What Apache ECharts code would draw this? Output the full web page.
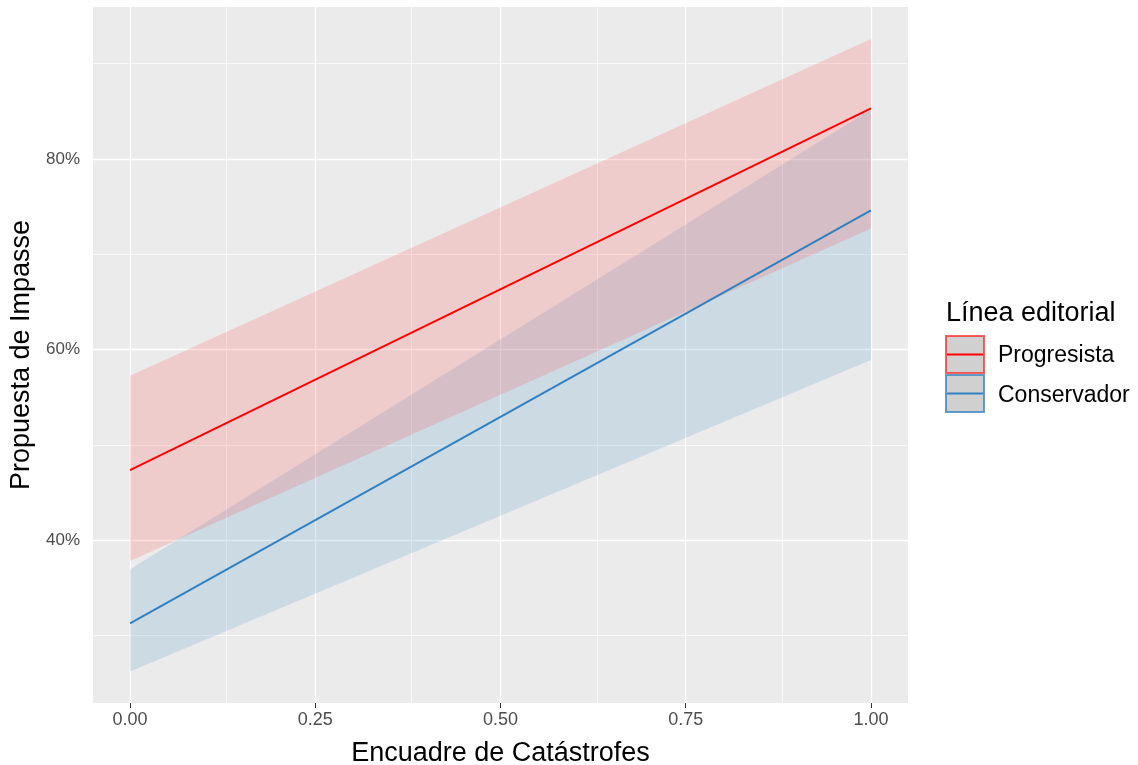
<!DOCTYPE html>
<html>
<head>
<meta charset="utf-8">
<script src="https://cdn.jsdelivr.net/npm/echarts@6/dist/echarts.min.js"></script>
<style>
  html, body { margin: 0; padding: 0; background: #ffffff; }
  #chart { width: 1138px; height: 765px; }
</style>
</head>
<body>
<div id="chart"></div>
<script>
// ---- data ----
const xValues = [0, 1];
const progresistaFit   = [47.35, 85.3];
const progresistaLower = [37.8, 72.7];
const progresistaUpper = [57.25, 92.6];
const conservadorFit   = [31.25, 74.6];
const conservadorLower = [26.2, 58.9];
const conservadorUpper = [36.95, 85.2];

const xTicks = [0, 0.25, 0.5, 0.75, 1];
const xMinorGrid = [0.125, 0.375, 0.625, 0.875];
const yTicks = [40, 60, 80];
const yMinorGrid = [30, 50, 70, 90];

const seriesNames = ['Progresista', 'Conservador'];
const legendTitle = 'Línea editorial';
const xTitle = 'Encuadre de Catástrofes';
const yTitle = 'Propuesta de Impasse';

// ---- helpers ----
const pairs = (ys) => xValues.map((x, i) => [x, ys[i]]);

const RED = '#ff0000';
const BLUE = '#3180c0';
const RED_FILL = 'rgba(255,80,80,0.2)';
const BLUE_FILL = 'rgba(95,160,205,0.22)';
const FONT = 'Liberation Sans, Arial, sans-serif';

function ribbon(name, lo, up, fill) {
  return {
    type: 'custom', name: name, silent: true, z: 2,
    data: xValues.map((x, i) => [x, lo[i], up[i]]),
    encode: { x: 0, y: [1, 2] },
    renderItem: function (params, api) {
      const i = params.dataIndex;
      if (i >= xValues.length - 1) return null;
      const pts = [
        api.coord([xValues[i], up[i]]),
        api.coord([xValues[i + 1], up[i + 1]]),
        api.coord([xValues[i + 1], lo[i + 1]]),
        api.coord([xValues[i], lo[i]])
      ];
      return { type: 'polygon', shape: { points: pts }, style: { fill: fill, stroke: null } };
    }
  };
}

const gridLines = {
  type: 'line', name: 'grid', data: [], silent: true, z: 1,
  markLine: {
    silent: true, symbol: ['none', 'none'], z: 1, animation: false,
    label: { show: false },
    data: [
      ...xTicks.map(v => ({ xAxis: v, lineStyle: { color: '#ffffff', width: 1.4, type: 'solid' } })),
      ...xMinorGrid.map(v => ({ xAxis: v, lineStyle: { color: '#ffffff', width: 0.7, type: 'solid' } })),
      ...yTicks.map(v => ({ yAxis: v, lineStyle: { color: '#ffffff', width: 1.4, type: 'solid' } })),
      ...yMinorGrid.map(v => ({ yAxis: v, lineStyle: { color: '#ffffff', width: 0.7, type: 'solid' } }))
    ]
  }
};

const chart = echarts.init(document.getElementById('chart'), null, { renderer: 'canvas' });

const option = {
  animation: false,
  backgroundColor: '#ffffff',
  grid: {
    left: 93, right: 230, top: 7, bottom: 62,
    outerBoundsMode: 'none', containLabel: false,
    show: true, backgroundColor: '#ebebeb', borderWidth: 0
  },
  xAxis: {
    type: 'value', min: -0.05, max: 1.05,
    axisLine: { show: false },
    splitLine: { show: false },
    axisTick: { show: true, length: 5, customValues: xTicks, lineStyle: { color: '#333333', width: 1 } },
    axisLabel: {
      customValues: xTicks, margin: 8, color: '#4d4d4d', fontSize: 18, fontFamily: FONT,
      formatter: v => Number(v).toFixed(2)
    },
    name: xTitle, nameLocation: 'middle', nameGap: 37,
    nameTextStyle: { color: '#000000', fontSize: 27, fontFamily: FONT }
  },
  yAxis: {
    type: 'value', min: 22.9, max: 95.95,
    axisLine: { show: false },
    splitLine: { show: false },
    axisTick: { show: true, length: 5, customValues: yTicks, lineStyle: { color: '#333333', width: 1 } },
    axisLabel: {
      customValues: yTicks, margin: 13, color: '#4d4d4d', fontSize: 17, fontFamily: FONT,
      formatter: v => v + '%'
    },
    name: yTitle, nameLocation: 'middle', nameGap: 54,
    nameTextStyle: { color: '#000000', fontSize: 27, fontFamily: FONT }
  },
  series: [
    gridLines,
    ribbon('cons_band', conservadorLower, conservadorUpper, BLUE_FILL),
    {
      type: 'line', name: seriesNames[1], data: pairs(conservadorFit),
      symbol: 'none', lineStyle: { color: BLUE, width: 2 }, z: 2
    },
    ribbon('prog_band', progresistaLower, progresistaUpper, RED_FILL),
    {
      type: 'line', name: seriesNames[0], data: pairs(progresistaFit),
      symbol: 'none', lineStyle: { color: RED, width: 2 }, z: 2
    }
  ],
  graphic: [
    { type: 'text', left: 946, top: 300, style: { text: legendTitle, fontSize: 27, fontFamily: FONT, fill: '#000000' } },
    { type: 'rect', shape: { x: 946, y: 336, width: 38, height: 37 },
      style: { fill: '#d0d0d0', stroke: 'rgba(255,40,40,0.75)', lineWidth: 2 } },
    { type: 'line', shape: { x1: 947, y1: 354.5, x2: 983, y2: 354.5 }, style: { stroke: RED, lineWidth: 2 } },
    { type: 'rect', shape: { x: 946, y: 375, width: 38, height: 37 },
      style: { fill: '#d0d0d0', stroke: 'rgba(49,128,192,0.75)', lineWidth: 2 } },
    { type: 'line', shape: { x1: 947, y1: 393.5, x2: 983, y2: 393.5 }, style: { stroke: BLUE, lineWidth: 2 } },
    { type: 'text', left: 998, top: 344, style: { text: seriesNames[0], fontSize: 23, fontFamily: FONT, fill: '#000000' } },
    { type: 'text', left: 998, top: 384, style: { text: seriesNames[1], fontSize: 23, fontFamily: FONT, fill: '#000000' } }
  ]
};

chart.setOption(option);
</script>
</body>
</html>
